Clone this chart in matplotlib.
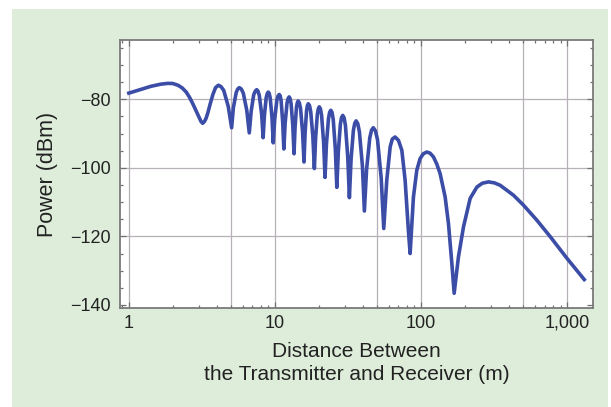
import numpy as np
import matplotlib
matplotlib.use("Agg")
import matplotlib.pyplot as plt
from matplotlib.patches import Rectangle
from matplotlib.ticker import FixedLocator, FixedFormatter, LogLocator, NullFormatter, MultipleLocator

plt.rcParams['font.family'] = ['Liberation Sans', 'DejaVu Sans']

# values (distance in m, received power in dBm)
dist = [1.00, 1.15, 1.42, 1.65, 1.85, 2.00, 2.17, 2.32, 2.47, 2.60, 2.74, 2.90,
        3.05, 3.12, 3.20, 3.29, 3.38, 3.47, 3.60, 3.76, 3.92, 4.10, 4.27, 4.46,
        4.79, 5.05, 5.19, 5.43, 5.56, 5.70, 5.88, 6.07, 6.41, 6.67, 6.87, 7.15,
        7.33, 7.50, 7.65, 7.81, 8.10, 8.30, 8.47, 8.71, 8.86, 9.00, 9.14, 9.28,
        9.54, 9.73, 9.96, 10.30, 10.50, 10.7, 10.86, 11.02, 11.29, 11.5, 11.74, 12.09,
        12.29, 12.5, 12.69, 12.89, 13.24, 13.5, 13.72, 14.03, 14.22, 14.4, 14.67, 14.95,
        15.44, 15.8, 16.07, 16.45, 16.67, 16.9, 17.23, 17.56, 18.16, 18.6, 18.97, 19.49,
        19.79, 20.1, 20.47, 20.84, 21.51, 22.0, 22.50, 23.24, 23.66, 24.1, 24.56, 25.04,
        25.88, 26.5, 27.14, 28.03, 28.56, 29.1, 29.71, 30.34, 31.46, 32.3, 33.16, 34.41,
        35.15, 35.9, 36.85, 37.82, 39.66, 40.9, 42.34, 44.55, 45.79, 47.1, 48.67, 50.30,
        53.31, 55.5, 58.2, 61.4, 63.5, 66.4, 70.0, 73.8, 77.7, 81.8, 84.1, 88.6,
        93.4, 98.4, 103.5, 109.4, 115.0, 121.4, 128.0, 134.9, 146.0, 153.8, 162.3, 168.3,
        180.0, 195.0, 216.6, 240.9, 262.0, 289.0, 318.0, 347.6, 428.7, 502.0, 620.0, 765.0,
        995.0, 1307.0]
power = [-78.2, -77.4, -76.2, -75.6, -75.35, -75.4, -75.9, -76.7, -77.9, -79.4, -81.3, -83.6,
         -85.6, -86.5, -87.0, -86.5, -85.5, -84.0, -81.4, -78.6, -76.6, -75.9, -76.3, -77.4,
         -82.1, -88.3, -82.5, -78.0, -77.0, -76.6, -77.0, -78.2, -83.2, -89.8, -83.5, -78.7,
         -77.6, -77.2, -77.6, -78.9, -84.2, -91.2, -84.6, -79.5, -78.3, -77.9, -78.3, -79.7,
         -85.3, -92.7, -85.7, -80.3, -79.0, -78.6, -79.0, -80.5, -86.6, -94.5, -86.9, -81.1,
         -79.8, -79.3, -79.8, -81.3, -87.6, -95.9, -88.2, -82.3, -81.0, -80.5, -81.0, -82.6,
         -89.4, -98.3, -89.8, -83.3, -81.8, -81.3, -81.8, -83.6, -90.8, -100.2, -91.2, -84.4,
         -82.8, -82.2, -82.8, -84.7, -92.5, -102.8, -93.0, -85.6, -83.8, -83.2, -83.8, -85.9,
         -94.5, -105.7, -95.2, -87.2, -85.3, -84.7, -85.4, -87.6, -96.7, -108.7, -97.5, -89.0,
         -87.0, -86.3, -87.1, -89.5, -99.5, -112.6, -100.5, -91.2, -89.0, -88.3, -89.2, -91.8,
         -103.0, -117.7, -103.6, -93.9, -91.6, -91.0, -92.0, -94.9, -103.6, -118.2, -125.0, -108.5,
         -100.7, -97.3, -95.9, -95.4, -95.7, -96.8, -98.9, -101.7, -108.5, -116.2, -127.9, -136.6,
         -126.0, -117.2, -108.9, -105.6, -104.5, -104.1, -104.4, -105.1, -108.0, -110.9, -115.3, -120.1,
         -126.4, -132.6]

x_grid = [1, 5, 10, 50, 100, 500, 1000]
y_grid = [-80, -100, -120]
x_ticks = [1, 10, 100, 1000]
x_labels = ["1", "10", "100", "1,000"]
y_ticks = [-140, -120, -100, -80]
y_labels = ["\u2212140", "\u2212120", "\u2212100", "\u221280"]

fig = plt.figure(figsize=(6.11, 4.07), dpi=100)
bg = Rectangle((12 / 611, 0), 596 / 611, 398 / 407, transform=fig.transFigure,
               facecolor="#DDEDD9", edgecolor="none", zorder=-10)
fig.add_artist(bg)

ax = fig.add_axes([120 / 611, 1 - 308 / 407, 473 / 611, 268 / 407])
ax.set_zorder(1)
ax.set_facecolor("white")

for g in x_grid:
    ax.axvline(g, color="#B8B0B8", lw=0.9, zorder=1)
for g in y_grid:
    ax.axhline(g, color="#B8B0B8", lw=0.9, zorder=1)

ax.plot(dist, power, color="#3B4DA6", lw=2.6, solid_joinstyle="round", zorder=3)

ax.set_xscale("log")
ax.set_xlim(0.87, 1500)
ax.set_ylim(-140.9, -62.7)

ax.xaxis.set_major_locator(FixedLocator(x_ticks))
ax.xaxis.set_major_formatter(FixedFormatter(x_labels))
ax.xaxis.set_minor_locator(LogLocator(base=10, subs=np.arange(2, 10)))
ax.xaxis.set_minor_formatter(NullFormatter())
ax.yaxis.set_major_locator(FixedLocator(y_ticks))
ax.yaxis.set_major_formatter(FixedFormatter(y_labels))
ax.yaxis.set_minor_locator(MultipleLocator(5))

ax.tick_params(which="both", direction="in", top=True, right=True, color="#707070",
               labelsize=13, labelcolor="#222222", width=0.9)
ax.tick_params(which="major", length=4)
ax.tick_params(which="minor", length=2.5)
ax.tick_params(axis="y", which="major", pad=6.5)
ax.tick_params(axis="x", which="major", pad=5)

for s in ax.spines.values():
    s.set_color("#7A7A7A")
    s.set_linewidth(1.3)

ax.set_xlabel("Distance Between\nthe Transmitter and Receiver (m)", fontsize=15,
              color="#222222", linespacing=1.3, labelpad=7)
ax.set_ylabel("Power (dBm)", fontsize=15.5, color="#222222", labelpad=9)

fig.savefig("out.png", dpi=100)
